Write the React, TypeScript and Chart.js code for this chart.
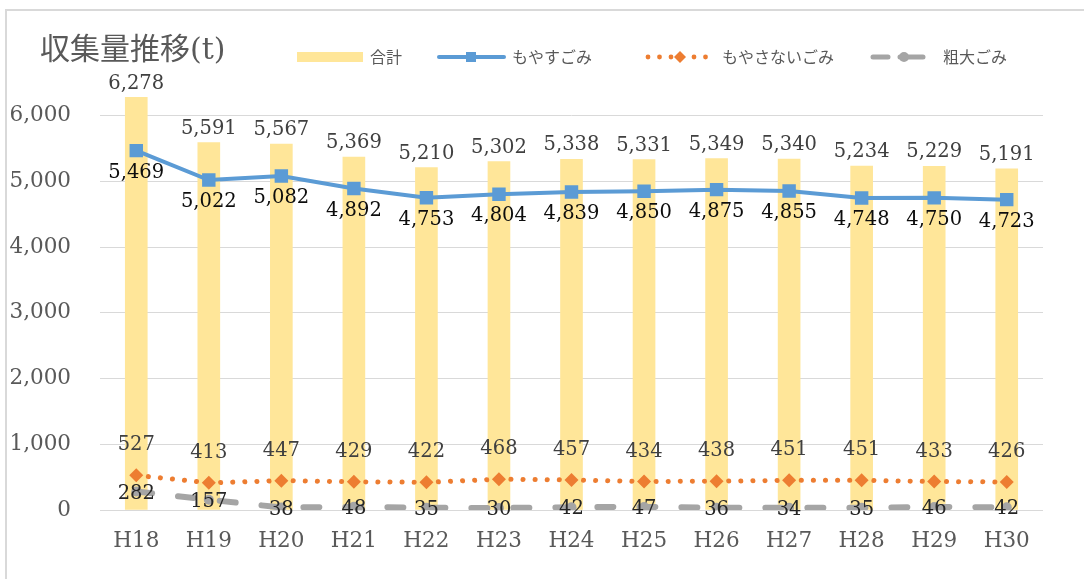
import React, { useEffect, useRef } from "react";
import { Chart, registerables } from "chart.js";

Chart.register(...registerables);

const categories = ["H18", "H19", "H20", "H21", "H22", "H23", "H24", "H25", "H26", "H27", "H28", "H29", "H30"];
const totalValues = [6278, 5591, 5567, 5369, 5210, 5302, 5338, 5331, 5349, 5340, 5234, 5229, 5191];
const burnableValues = [5469, 5022, 5082, 4892, 4753, 4804, 4839, 4850, 4875, 4855, 4748, 4750, 4723];
const nonBurnableValues = [527, 413, 447, 429, 422, 468, 457, 434, 438, 451, 451, 433, 426];
const bulkyValues = [282, 157, 38, 48, 35, 30, 42, 47, 36, 34, 35, 46, 42];
const seriesNames = ["合計", "もやすごみ", "もやさないごみ", "粗大ごみ"];
const yTicks = [0, 1000, 2000, 3000, 4000, 5000, 6000];
const chartTitle = "収集量推移(t)";

const SERIF = "'DejaVu Serif', 'Liberation Serif', serif";
const JP = "'Noto Sans CJK JP', 'Noto Sans', sans-serif";
const YELLOW = "#FFE699";
const BLUE = "#5B9BD5";
const ORANGE = "#ED7D31";
const GRAY = "#A5A5A5";
const GRID = "#D9D9D9";

const fmt = (v: number) => v.toLocaleString("en-US");

const labelPlugin = {
  id: "valueLabels",
  afterDatasetsDraw(chart: any) {
    const ctx = chart.ctx;
    ctx.save();
    ctx.textAlign = "center";
    ctx.textBaseline = "middle";
    const cfg = [
      { ds: 0, dy: -14, color: "#404040" },
      { ds: 1, dy: 22, color: "#0D0D0D" },
      { ds: 2, dy: -30, color: "#404040" },
      { ds: 3, dy: 2, color: "#262626" },
    ];
    cfg.forEach((c) => {
      const meta = chart.getDatasetMeta(c.ds);
      const data = chart.data.datasets[c.ds].data as number[];
      ctx.font = `19.5px ${SERIF}`;
      ctx.fillStyle = c.color;
      meta.data.forEach((el: any, i: number) => {
        ctx.fillText(fmt(data[i]), el.x, el.y + c.dy);
      });
    });
    ctx.restore();
  },
  afterDraw(chart: any) {
    const ctx = chart.ctx;
    ctx.save();
    // title
    ctx.fillStyle = "#595959";
    ctx.font = `30px 'DejaVu Serif', 'Noto Sans CJK JP', serif`;
    ctx.textAlign = "left";
    ctx.textBaseline = "middle";
    ctx.fillText(chartTitle, 40, 51);

    const y = 57;
    // legend: 合計
    ctx.fillStyle = YELLOW;
    ctx.fillRect(297, y - 5, 66, 10);
    // もやすごみ
    ctx.strokeStyle = BLUE;
    ctx.lineWidth = 4;
    ctx.lineCap = "round";
    ctx.beginPath();
    ctx.moveTo(439, y);
    ctx.lineTo(504, y);
    ctx.stroke();
    ctx.fillStyle = BLUE;
    ctx.fillRect(471 - 5, y - 5, 10, 10);
    // もやさないごみ
    ctx.fillStyle = ORANGE;
    for (let x = 648; x <= 713; x += 11.5) {
      if (Math.abs(x - 680) < 5) continue;
      ctx.beginPath();
      ctx.arc(x, y, 2.4, 0, Math.PI * 2);
      ctx.fill();
    }
    ctx.beginPath();
    ctx.moveTo(680, y - 6);
    ctx.lineTo(686, y);
    ctx.lineTo(680, y + 6);
    ctx.lineTo(674, y);
    ctx.closePath();
    ctx.fill();
    // 粗大ごみ
    ctx.strokeStyle = GRAY;
    ctx.lineWidth = 5;
    ctx.beginPath();
    ctx.moveTo(873, y);
    ctx.lineTo(888, y);
    ctx.moveTo(900, y);
    ctx.lineTo(923, y);
    ctx.stroke();
    ctx.fillStyle = GRAY;
    ctx.beginPath();
    ctx.arc(904, y, 5, 0, Math.PI * 2);
    ctx.fill();

    ctx.fillStyle = "#595959";
    ctx.font = `16px ${JP}`;
    ctx.fillText(seriesNames[0], 370, y);
    ctx.fillText(seriesNames[1], 512, y);
    ctx.fillText(seriesNames[2], 722, y);
    ctx.fillText(seriesNames[3], 943, y);
    ctx.restore();
  },
};

export default function App() {
  const ref = useRef<HTMLCanvasElement>(null);
  useEffect(() => {
    if (!ref.current) return;
    const chart = new Chart(ref.current, {
      type: "bar",
      data: {
        labels: categories,
        datasets: [
          {
            type: "bar",
            label: seriesNames[0],
            data: totalValues,
            backgroundColor: YELLOW,
            barThickness: 22,
            order: 10,
          },
          {
            type: "line",
            label: seriesNames[1],
            data: burnableValues,
            borderColor: BLUE,
            backgroundColor: BLUE,
            borderWidth: 4,
            pointStyle: "rect",
            pointRadius: 9.5,
            pointBorderWidth: 0,
            order: 1,
          },
          {
            type: "line",
            label: seriesNames[2],
            data: nonBurnableValues,
            borderColor: ORANGE,
            backgroundColor: ORANGE,
            borderWidth: 5,
            borderDash: [0.1, 12],
            borderCapStyle: "round",
            pointStyle: "rectRot",
            pointRadius: 7,
            pointBorderWidth: 0,
            order: 2,
          },
          {
            type: "line",
            label: seriesNames[3],
            data: bulkyValues,
            borderColor: GRAY,
            backgroundColor: GRAY,
            borderWidth: 6,
            borderDash: [16, 26],
            borderCapStyle: "round",
            pointStyle: "circle",
            pointRadius: 5,
            pointBorderWidth: 0,
            order: 3,
          },
        ],
      },
      options: {
        animation: false,
        responsive: false,
        maintainAspectRatio: false,
        layout: { padding: { top: 50, right: 41, left: 0, bottom: 0 } },
        plugins: {
          legend: { display: false },
          tooltip: { enabled: false },
          title: { display: false },
        },
        scales: {
          x: {
            grid: { display: false, drawTicks: false },
            border: { display: false },
            ticks: { color: "#595959", font: { family: SERIF, size: 21.5 }, padding: 19 },
            afterFit: (s: any) => {
              s.height = 69;
            },
          },
          y: {
            min: 0,
            max: 7000,
            afterBuildTicks: (s: any) => {
              s.ticks = [...yTicks, 7000].map((v) => ({ value: v }));
            },
            grid: {
              drawTicks: false,
              color: (c: any) => (c.tick && c.tick.value === 7000 ? "rgba(0,0,0,0)" : GRID),
              lineWidth: 1,
            },
            border: { display: false },
            ticks: {
              color: "#595959",
              font: { family: SERIF, size: 21.5 },
              padding: 29,
              callback: (v: any) => (Number(v) === 7000 ? "" : fmt(Number(v))),
            },
            afterFit: (s: any) => {
              s.width = 100;
            },
          },
        },
      },
      plugins: [labelPlugin],
    });
    return () => chart.destroy();
  }, []);

  return (
    <div
      style={{
        position: "fixed",
        left: 0,
        top: 0,
        width: 1084,
        height: 579,
        overflow: "hidden",
        background: "#FFFFFF",
      }}
    >
      <div
        style={{
          position: "absolute",
          left: 5,
          top: 9,
          width: 1200,
          height: 700,
          border: "2px solid #D9D9D9",
          boxSizing: "border-box",
        }}
      />
      <canvas ref={ref} width={1084} height={579} style={{ position: "absolute", left: 0, top: 0 }} />
    </div>
  );
}
